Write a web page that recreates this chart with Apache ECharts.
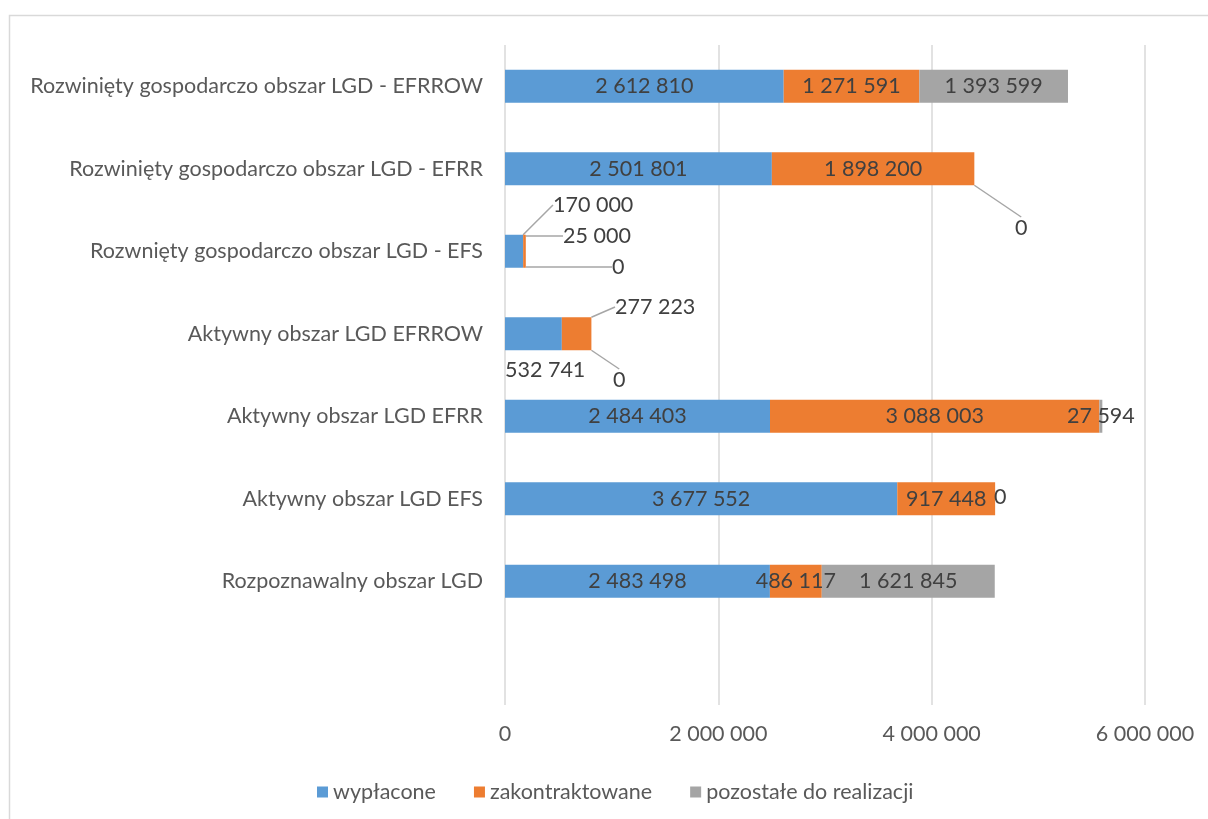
<!DOCTYPE html>
<html>
<head>
<meta charset="utf-8">
<script src="https://cdn.jsdelivr.net/npm/echarts@6/dist/echarts.min.js"></script>
<style>
	html, body { margin: 0; padding: 0; background: #fff; }
	#chart { width: 1208px; height: 819px; }
</style>
</head>
<body>
<div id="chart"></div>
<script>
	'use strict'
	/*----data----*/
	var categories = [
		'Rozwinięty gospodarczo obszar LGD - EFRROW',
		'Rozwinięty gospodarczo obszar LGD - EFRR',
		'Rozwnięty gospodarczo obszar LGD - EFS',
		'Aktywny obszar LGD EFRROW',
		'Aktywny obszar LGD EFRR',
		'Aktywny obszar LGD EFS',
		'Rozpoznawalny obszar LGD',
		''
	];
	var wyplacone = [2612810, 2501801, 170000, 532741, 2484403, 3677552, 2483498, null];
	var zakontraktowane = [1271591, 1898200, 25000, 277223, 3088003, 917448, 486117, null];
	var pozostale = [1393599, 0, 0, 0, 27594, 0, 1621845, null];
	var seriesNames = ['wypłacone', 'zakontraktowane', 'pozostałe do realizacji'];
	var xTicks = [0, 2000000, 4000000, 6000000];

	/*----label placement (moved labels, seriesIndex-dataIndex)----*/
	var moved = {
		'0-2': { x: 553, y: 205, line: true },
		'1-2': { x: 563, y: 236, line: true },
		'2-2': { x: 612, y: 267, line: true },
		'0-3': { x: 505, y: 370, line: false },
		'1-3': { x: 615, y: 307, line: true },
		'2-3': { x: 613, y: 380, line: true },
		'2-1': { x: 1015, y: 228, line: true },
		'2-5': { x: 994, y: 497, line: false }
	};

	function fmt(v) {
		return String(v).replace(/\B(?=(\d{3})+(?!\d))/g, ' ');
	}

	var font = 'Lato';
	var textColor = '#595959';
	var fs = 21.5;

	function buildSeries(values, si) {
		return {
			name: seriesNames[si],
			type: 'bar',
			stack: 'total',
			barWidth: '40%',
			data: values.map(function(v, di) {
				var item = { value: v };
				var m = moved[si + '-' + di];
				if (m) {
					item.labelLine = { show: m.line };
				}
				return item;
			}),
			label: {
				show: true,
				position: 'inside',
				color: '#404040',
				fontFamily: font,
				fontSize: fs,
				formatter: function(p) { return p.value == null ? '' : fmt(p.value); }
			},
			labelLine: {
				show: false,
				lineStyle: { color: '#a6a6a6', width: 1.5 }
			},
			labelLayout: function(p) {
				var m = moved[p.seriesIndex + '-' + p.dataIndex];
				if (!m) return {};
				return { x: m.x, y: m.y, align: 'left', verticalAlign: 'middle' };
			}
		};
	}

	var chart = echarts.init(document.getElementById('chart'), null, { renderer: 'canvas' });
	var option = {
		animation: false,
		color: ['#5b9bd5', '#ed7d31', '#a5a5a5'],
		graphic: [{
			type: 'rect',
			shape: { x: 9.5, y: 15.5, width: 1260, height: 900 },
			style: { fill: 'none', stroke: '#d9d9d9', lineWidth: 1.5 },
			silent: true
		}],
		grid: {
			left: 505,
			right: 63,
			top: 45,
			bottom: 114
		},
		legend: {
			left: 312,
			top: 776,
			itemWidth: 11,
			itemHeight: 11,
			itemGap: 38,
			icon: 'rect',
			textStyle: { color: textColor, fontFamily: font, fontSize: fs },
			data: seriesNames
		},
		xAxis: {
			type: 'value',
			min: xTicks[0],
			max: xTicks[xTicks.length - 1],
			interval: xTicks[1] - xTicks[0],
			axisLine: { show: false },
			axisTick: { show: false },
			splitLine: { lineStyle: { color: '#d9d9d9', width: 1.5 } },
			axisLabel: {
				color: textColor,
				fontFamily: font,
				fontSize: fs,
				margin: 18,
				formatter: function(v) { return fmt(v); }
			}
		},
		yAxis: {
			type: 'category',
			inverse: true,
			data: categories,
			axisLine: { show: false },
			axisTick: { show: false },
			axisLabel: {
				color: textColor,
				fontFamily: font,
				fontSize: fs,
				margin: 22
			}
		},
		series: [
			buildSeries(wyplacone, 0),
			buildSeries(zakontraktowane, 1),
			buildSeries(pozostale, 2)
		]
	};
	chart.setOption(option);
</script>
</body>
</html>
